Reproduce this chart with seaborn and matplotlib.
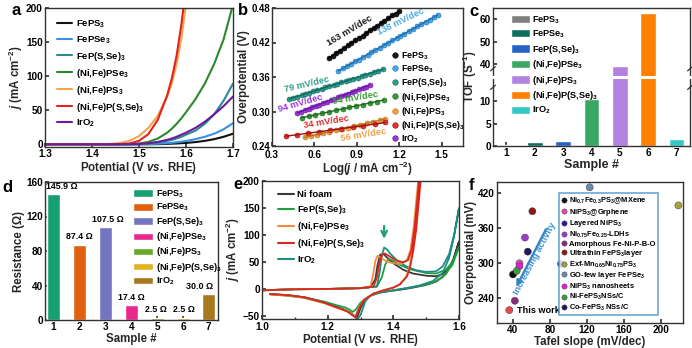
import numpy as np
import matplotlib
matplotlib.use("Agg")
import matplotlib.pyplot as plt
import seaborn as sns
from matplotlib.patches import Patch
from matplotlib.lines import Line2D
from matplotlib.ticker import MultipleLocator, FormatStrFormatter

# ---------------------------------------------------------------- data
SAMPLES = ["FePS$_3$", "FePSe$_3$", "FeP(S,Se)$_3$", "(Ni,Fe)PSe$_3$",
           "(Ni,Fe)PS$_3$", "(Ni,Fe)P(S,Se)$_3$", "IrO$_2$"]
SAMPLE_NO = ["1", "2", "3", "4", "5", "6", "7"]

# (a) LSV polarisation curves, j in mA cm-2 on a shared potential grid
a_potential = [1.30, 1.35, 1.40, 1.44, 1.46, 1.48, 1.50, 1.52, 1.54, 1.56,
               1.57, 1.58, 1.59, 1.60, 1.62, 1.64, 1.66, 1.68, 1.70]
a_feps3 = [0, 0, 0, 0, 0, 0, 0, 0, 0.2, 0.6, 0.9, 1.2, 1.6, 2.0, 3.2, 5.0, 7.5, 11, 15.5]
a_fepse3 = [0, 0, 0, 0, 0, 0, 0, 0.3, 0.8, 1.6, 2.2, 2.9, 3.8, 4.8, 7.5, 11, 15.5, 22, 31]
a_fepsse3 = [0, 0, 0, 0, 0, 0, 0.3, 1, 2.5, 5, 6.5, 8.5, 11, 14, 20, 30, 44, 64, 89]
a_nifepse3 = [0, 0, 0, 0, 0.1, 0.4, 1.2, 3.5, 8.5, 17, 23, 30, 38, 47, 66, 89, 118, 154, 205]
a_nifeps3 = [0, 0, 0, 0.6, 2, 5, 12, 24, 42, 70, 90, 118, 155, 205,
             np.nan, np.nan, np.nan, np.nan, np.nan]
a_nifepsse3 = [0, 0, 0, 0, 0.3, 1.2, 5, 15, 36, 72, 97, 130, 175, 230,
               np.nan, np.nan, np.nan, np.nan, np.nan]
a_iro2 = [0, 0, 0, 0, 0, 0.1, 0.5, 1.5, 3.5, 6.5, 8.5, 11, 14, 17, 24, 33, 44, 56, 70]

# (b) Tafel data: log(j) and overpotential (V)
b_feps3_x = [0.70, 0.73, 0.755, 0.78, 0.81, 0.835, 0.86, 0.89, 0.915, 0.94,
             0.965, 0.99, 1.02, 1.045, 1.07, 1.095, 1.12, 1.15, 1.175, 1.20]
b_feps3_y = [0.393, 0.397, 0.402, 0.406, 0.410, 0.415, 0.419, 0.424, 0.428, 0.431,
             0.436, 0.441, 0.445, 0.449, 0.454, 0.458, 0.462, 0.467, 0.470, 0.474]
b_fepse3_x = [0.77, 0.80, 0.83, 0.86, 0.885, 0.915, 0.945, 0.975, 1.00, 1.03, 1.06, 1.09,
              1.12, 1.15, 1.18, 1.205, 1.235, 1.265, 1.295, 1.325, 1.355, 1.385, 1.415,
              1.445, 1.47]
b_fepse3_y = [0.371, 0.375, 0.379, 0.383, 0.387, 0.390, 0.395, 0.399, 0.403, 0.407,
              0.411, 0.415, 0.419, 0.424, 0.427, 0.431, 0.435, 0.440, 0.443, 0.448,
              0.452, 0.456, 0.460, 0.464, 0.468]
b_fepsse3_x = [0.42, 0.45, 0.48, 0.51, 0.535, 0.565, 0.59, 0.62, 0.65, 0.675, 0.705, 0.735,
               0.76, 0.79, 0.82, 0.845, 0.875, 0.905, 0.935, 0.96, 0.99, 1.02, 1.05, 1.085]
b_fepsse3_y = [0.322, 0.324, 0.326, 0.329, 0.331, 0.333, 0.335, 0.337, 0.340, 0.342,
               0.344, 0.346, 0.348, 0.351, 0.353, 0.355, 0.357, 0.359, 0.362, 0.364,
               0.366, 0.368, 0.371, 0.374]
b_iro2_x = [0.48, 0.505, 0.53, 0.56, 0.585, 0.61, 0.635, 0.66, 0.69, 0.715, 0.74,
            0.765, 0.79, 0.815, 0.84, 0.865, 0.89, 0.915, 0.94, 0.965, 0.99]
b_iro2_y = [0.298, 0.300, 0.302, 0.305, 0.308, 0.310, 0.312, 0.315, 0.317, 0.320,
            0.322, 0.325, 0.327, 0.329, 0.331, 0.334, 0.336, 0.339, 0.341, 0.343, 0.346]
b_nifepse3_x = [0.51, 0.56, 0.605, 0.655, 0.70, 0.75, 0.80, 0.845, 0.895, 0.94,
                0.99, 1.04, 1.09]
b_nifepse3_y = [0.289, 0.292, 0.294, 0.297, 0.299, 0.302, 0.305, 0.307, 0.310,
                0.312, 0.315, 0.317, 0.320]
b_nifepsse3_x = [0.40, 0.48, 0.555, 0.635, 0.71, 0.79, 0.87, 0.945, 1.025, 1.10]
b_nifepsse3_y = [0.257, 0.260, 0.262, 0.265, 0.268, 0.270, 0.273, 0.275, 0.278, 0.281]
b_nifeps3_x = [0.53, 0.575, 0.62, 0.66, 0.705, 0.75, 0.795, 0.84, 0.88, 0.925,
               0.97, 1.015, 1.06, 1.10]
b_nifeps3_y = [0.255, 0.258, 0.260, 0.262, 0.265, 0.267, 0.270, 0.272, 0.275,
               0.277, 0.280, 0.282, 0.285, 0.287]
b_slopes = ["163 mV/dec", "138 mV/dec", "79 mV/dec", "94 mV/dec",
            "54 mV/dec", "34 mV/dec", "56 mV/dec"]

# (c) turnover frequency
c_tof = [0.2, 0.9, 1.2, 10.5, 39.3, 62.6, 1.6]

# (d) charge-transfer resistance (ohm)
d_resistance = [145.9, 87.4, 107.5, 17.4, 2.5, 2.5, 30.0]

# (e) cyclic voltammograms: anodic sweep then cathodic sweep
e_names = ["Ni foam", "FeP(S,Se)$_3$", "(Ni,Fe)PSe$_3$", "(Ni,Fe)P(S,Se)$_3$", "IrO$_2$"]
e_nifoam_v = [1.00, 1.05, 1.10, 1.20, 1.30, 1.33, 1.345, 1.352, 1.36, 1.37, 1.38, 1.40, 1.43,
              1.46, 1.50, 1.53, 1.55, 1.57, 1.585, 1.60,
              1.58, 1.56, 1.53, 1.50, 1.46, 1.42, 1.38, 1.34, 1.315, 1.30, 1.29, 1.28,
              1.26, 1.23, 1.19, 1.13, 1.08, 1.025]
e_nifoam_j = [-2, -1, 0, 0.5, 2, 4, 18, 45, 64, 65, 59, 48, 36, 29, 25, 24, 28, 40, 58, 88,
              50, 28, 14, 8, 3, -1, -4, -8, -18, -35, -52, -48, -40, -33, -24, -15, -11, -9]
e_fepsse3_v = [1.00, 1.05, 1.10, 1.20, 1.30, 1.35, 1.365, 1.375, 1.385, 1.395, 1.42, 1.45,
               1.50, 1.53, 1.56, 1.58, 1.60,
               1.58, 1.55, 1.52, 1.48, 1.44, 1.40, 1.36, 1.33, 1.30, 1.285, 1.275, 1.268,
               1.255, 1.23, 1.19, 1.13, 1.08, 1.025]
e_fepsse3_j = [-2, -1, 0, 0.5, 2, 5, 22, 45, 56, 54, 45, 37, 30, 29, 36, 50, 78,
               45, 22, 12, 6, 2, -2, -6, -12, -25, -38, -42, -38, -34, -30, -23, -15, -11, -9]
e_nifepse3_v = [1.00, 1.05, 1.10, 1.20, 1.30, 1.33, 1.338, 1.345, 1.352, 1.362, 1.38, 1.40,
                1.42, 1.44, 1.452, 1.462, 1.47, 1.478,
                1.482, 1.475, 1.467, 1.458, 1.45, 1.44, 1.42, 1.40, 1.37, 1.34, 1.31, 1.295,
                1.285, 1.275, 1.26, 1.23, 1.19, 1.13, 1.08, 1.025]
e_nifepse3_j = [-2, -1, 0, 0.5, 2, 5, 25, 52, 62, 58, 51, 48, 47, 52, 72, 115, 165, 215,
                215, 165, 112, 72, 44, 24, 9, 3, -2, -8, -20, -34, -50, -47, -41, -35, -26,
                -16, -12, -10]
e_nifepsse3_v = [1.00, 1.05, 1.10, 1.20, 1.30, 1.34, 1.35, 1.358, 1.366, 1.375, 1.39, 1.41,
                 1.43, 1.445, 1.456, 1.465, 1.473, 1.48,
                 1.485, 1.478, 1.47, 1.461, 1.452, 1.442, 1.42, 1.40, 1.37, 1.34, 1.31,
                 1.295, 1.285, 1.275, 1.26, 1.23, 1.19, 1.13, 1.08, 1.025]
e_nifepsse3_j = [-2, -1, 0, 0.5, 2, 5, 22, 50, 64, 66, 60, 53, 50, 54, 74, 115, 165, 215,
                 215, 165, 112, 72, 44, 24, 9, 3, -2, -8, -20, -36, -52, -48, -41, -34, -25,
                 -15, -11, -9]
e_iro2_v = [1.00, 1.05, 1.10, 1.20, 1.30, 1.35, 1.358, 1.365, 1.372, 1.38, 1.39, 1.41, 1.44,
            1.47, 1.50, 1.53, 1.55, 1.57, 1.585, 1.60,
            1.585, 1.57, 1.55, 1.52, 1.48, 1.44, 1.40, 1.36, 1.33, 1.315, 1.30, 1.29, 1.275,
            1.25, 1.22, 1.18, 1.12, 1.06, 1.025]
e_iro2_j = [-2, -1, 0, 0.5, 2, 5, 30, 62, 77, 74, 66, 54, 42, 35, 32, 33, 42, 65, 100, 150,
            98, 58, 30, 15, 7, 2, -2, -6, -12, -22, -48, -56, -46, -38, -31, -23, -15, -11, -9]

# (f) literature comparison: Tafel slope (mV/dec) vs overpotential (mV)
f_names = ["Ni$_{0.7}$Fe$_{0.3}$PS$_3$@MXene", "NiPS$_3$@Grphene", "Layered NiPS$_3$",
           "Ni$_{0.75}$Fe$_{0.25}$-LDHs", "Amorphous Fe-Ni-P-B-O", "Ultrathin FePS$_3$layer",
           "Exf-Mn$_{0.65}$Ni$_{0.75}$PS$_3$", "GO-few layer FePSe$_3$",
           "NiPS$_3$ nanosheets", "Ni-FePS$_3$NSs/C", "Co-FePS$_3$ NSs/C", "This work"]
f_tafel = [40, 47, 92, 53, 42, 61, 219, 123, 47, 44, 56, 36]
f_overpotential = [281, 300, 299, 344, 236, 389, 399, 430, 295, 287, 320, 220]

# ---------------------------------------------------------------- style
sns.set_theme(style="ticks")
plt.rcParams.update({
    "font.family": ["Liberation Sans", "DejaVu Sans"],
    "font.weight": "bold",
    "axes.labelweight": "bold",
    "mathtext.fontset": "custom",
    "mathtext.rm": "Liberation Sans:bold",
    "mathtext.bf": "Liberation Sans:bold",
    "mathtext.it": "Liberation Sans:bold:italic",
    "mathtext.bfit": "Liberation Sans:bold:italic",
    "axes.linewidth": 1.0,
    "axes.edgecolor": "#333333",
    "xtick.direction": "in",
    "ytick.direction": "in",
    "xtick.major.size": 3,
    "ytick.major.size": 3,
    "xtick.minor.size": 1.8,
    "xtick.major.pad": 1.3,
    "ytick.major.pad": 1.5,
    "xtick.labelsize": 7.2,
    "ytick.labelsize": 7.2,
    "axes.labelsize": 8.3,
    "axes.labelpad": 0.8,
    "legend.fontsize": 6.8,
    "text.color": "black",
    "xtick.color": "#333333",
    "ytick.color": "#333333",
    "xtick.labelcolor": "black",
    "ytick.labelcolor": "black",
})

W, H = 692, 348
fig = plt.figure(figsize=(W / 100, H / 100), dpi=100)


def box(left, top, right, bottom):
    return fig.add_axes([left / W, 1 - bottom / H, (right - left) / W, (bottom - top) / H])


def letter(x, y, s):
    fig.text(x / W, 1 - y / H, s, fontsize=12, fontweight="bold", va="baseline")


# ---------------------------------------------------------------- (a)
ax = box(45, 8, 233, 147)
a_colors = ["#111111", "#3a90e0", "#2b8a94", "#2a8a2a", "#f5a54a", "#e3231c", "#6c1b9c"]
a_series = [a_feps3, a_fepse3, a_fepsse3, a_nifepse3, a_nifeps3, a_nifepsse3, a_iro2]
for vals, col, lab in zip(a_series, a_colors, SAMPLES):
    sns.lineplot(x=a_potential, y=vals, color=col, lw=1.5, label=lab, ax=ax, sort=False,
                 estimator=None)
ax.set_xlim(1.3, 1.7)
ax.set_ylim(-4, 200)
ax.set_xticks([1.3, 1.4, 1.5, 1.6, 1.7])
ax.set_yticks([0, 50, 100, 150, 200])
ax.xaxis.set_major_formatter(FormatStrFormatter("%.1f"))
ax.set_xlabel("Potential (V $vs.$ RHE)")
ax.set_ylabel("$j$ (mA cm$^{-2}$)")
ax.legend(loc="upper left", bbox_to_anchor=(0.03, 0.97), frameon=False,
          handlelength=1.6, handletextpad=0.4, labelspacing=0.42, borderpad=0.2)
letter(12, 15, "a")

# ---------------------------------------------------------------- (b)
ax = box(272, 8, 463, 146)
b_colors = ["#1a1a1a", "#4aa8e8", "#2e9e8e", "#3a9a3a", "#f0a040", "#e03030", "#9a35d8"]
b_edge = ["#000000", "#1d6fb0", "#136a5f", "#1f6b1f", "#c07018", "#a01010", "#6a1aa0"]
b_data = [(b_feps3_x, b_feps3_y), (b_fepse3_x, b_fepse3_y), (b_fepsse3_x, b_fepsse3_y),
          (b_nifepse3_x, b_nifepse3_y), (b_nifeps3_x, b_nifeps3_y),
          (b_nifepsse3_x, b_nifepsse3_y), (b_iro2_x, b_iro2_y)]
for (xs, ys), col, ec in zip(b_data, b_colors, b_edge):
    sns.regplot(x=xs, y=ys, ci=None, ax=ax, color=col,
                scatter_kws=dict(s=13, edgecolor=ec, linewidths=0.4, alpha=1),
                line_kws=dict(lw=1.0, color=ec))
# slope annotations: x, y, rotation
b_label_pos = [(0.850, 0.441, 31), (1.21, 0.456, 26), (0.545, 0.347, 13),
               (0.50, 0.315, 16), (0.887, 0.324, 9), (0.687, 0.282, 9), (0.943, 0.259, 9)]
b_label_col = ["#1a1a1a", "#4aa8e8", "#2e9e8e", "#9a35d8", "#3a9a3a", "#e03030", "#f0a040"]
for (x, y, r), col, t in zip(b_label_pos, b_label_col, b_slopes):
    ax.text(x, y, t, color=col, rotation=r, rotation_mode="anchor", ha="center",
            va="center", fontsize=6.7, fontweight="bold")
ax.set_xlim(0.3, 1.65)
ax.set_ylim(0.24, 0.48)
ax.set_xticks([0.3, 0.6, 0.9, 1.2, 1.5])
ax.set_yticks([0.24, 0.30, 0.36, 0.42, 0.48])
ax.tick_params(axis="x", pad=2.6)
ax.tick_params(axis="y", labelsize=6.9)
ax.xaxis.set_major_formatter(FormatStrFormatter("%.1f"))
ax.yaxis.set_major_formatter(FormatStrFormatter("%.2f"))
ax.set_xlabel("Log($j$ / mA cm$^{-2}$)", labelpad=0.3)
ax.set_ylabel("Overpotential (V)")
b_handles = [Line2D([], [], ls="", marker="o", ms=4, color=c, mec=e, mew=0.4)
             for c, e in zip(b_colors, b_edge)]
ax.legend(b_handles, SAMPLES, loc="upper left", bbox_to_anchor=(0.6, 0.73), frameon=False,
          fontsize=6.4, handlelength=0.7, handletextpad=0.35, labelspacing=0.15,
          borderpad=0.1)
letter(238, 15, "b")

# ---------------------------------------------------------------- (c)
ax = box(493, 8, 690, 146)
c_colors = ["#7f7f7f", "#0f6e62", "#2563c9", "#3aa862", "#b382e0", "#ff8000", "#32c8c8"]
sns.barplot(x=SAMPLE_NO, y=c_tof, hue=SAMPLE_NO, palette=c_colors, legend=False,
            width=0.55, saturation=1, ax=ax)

LOW_TOP, HIGH_BOTTOM, HIGH_TOP, SPLIT = 15.3, 34.3, 64.7, 0.4976
EPS = 1e-5


def _to_axis(y):
    y = np.asarray(y, float)
    lo = y * SPLIT / LOW_TOP
    mid = SPLIT + (y - LOW_TOP) * EPS
    hi = SPLIT + (HIGH_BOTTOM - LOW_TOP) * EPS + (y - HIGH_BOTTOM) * (1 - SPLIT) / (HIGH_TOP - HIGH_BOTTOM)
    return np.where(y <= LOW_TOP, lo, np.where(y <= HIGH_BOTTOM, mid, hi))


def _from_axis(u):
    u = np.asarray(u, float)
    u2 = SPLIT + (HIGH_BOTTOM - LOW_TOP) * EPS
    lo = u * LOW_TOP / SPLIT
    mid = LOW_TOP + (u - SPLIT) / EPS
    hi = HIGH_BOTTOM + (u - u2) * (HIGH_TOP - HIGH_BOTTOM) / (1 - SPLIT)
    return np.where(u <= SPLIT, lo, np.where(u <= u2, mid, hi))


ax.set_yscale("function", functions=(_to_axis, _from_axis))
ax.set_ylim(0, HIGH_TOP)
ax.set_yticks([0, 5, 10, 40, 50, 60])
ax.set_yticklabels(["0", "5", "10", "40", "50", "60"])
ax.yaxis.set_minor_locator(matplotlib.ticker.NullLocator())
ax.set_xlim(-0.47, 6.47)
ax.plot([-0.01, 1.01], [SPLIT, SPLIT], transform=ax.transAxes, color="white", lw=2.2,
        zorder=4, clip_on=False)
for xs in (0.0, 1.0):
    for yb in (0.425, 0.56):
        ax.plot([xs - 0.012, xs + 0.012], [yb - 0.015, yb + 0.015], transform=ax.transAxes,
                color="#333333", lw=0.9, zorder=7, clip_on=False)
ax.set_xlabel("Sample #", fontsize=9)
ax.set_ylabel("TOF (S$^{-1}$)")
c_handles = [Patch(facecolor=c) for c in c_colors]
leg = ax.legend(c_handles, SAMPLES, loc="upper left", bbox_to_anchor=(0.06, 1.0),
                frameon=False, fontsize=6.6, handlelength=2.0, handleheight=1.0,
                handletextpad=0.3, labelspacing=0.28, borderpad=0.2)
leg.set_zorder(10)
letter(469, 16, "c")

# ---------------------------------------------------------------- (d)
ax = box(45, 182, 218, 320)
d_colors = ["#16a072", "#e0600f", "#7474c0", "#e8288c", "#66a82a", "#e3b020", "#a8781f"]
sns.barplot(x=SAMPLE_NO, y=d_resistance, hue=SAMPLE_NO, palette=d_colors, legend=False,
            width=0.5, saturation=1, ax=ax)
d_label_dx = [0.3, 0, 0.1, 0, -0.05, 0.05, -0.35]
for i, (v, dx) in enumerate(zip(d_resistance, d_label_dx)):
    ax.text(i + dx, v + 4, f"{v:.1f} Ω", ha="center", va="bottom", fontsize=6.4,
            fontweight="bold")
ax.set_ylim(0, 160)
ax.set_xlim(-0.33, 6.35)
ax.set_yticks([0, 40, 80, 120, 160])
ax.set_xlabel("Sample #")
ax.set_ylabel("Resistance (Ω)")
d_handles = [Patch(facecolor=c) for c in d_colors]
ax.legend(d_handles, SAMPLES, loc="upper left", bbox_to_anchor=(0.47, 1.0), frameon=False,
          fontsize=6.6, handlelength=2.2, handleheight=0.9, handletextpad=0.3,
          labelspacing=0.22, borderpad=0.2)
letter(2, 192, "d")

# ---------------------------------------------------------------- (e)
ax = box(262, 181, 459, 319)
e_colors = ["#3a3a3a", "#1fa040", "#f58a40", "#d8281e", "#1e8c84"]
e_data = [(e_nifoam_v, e_nifoam_j), (e_fepsse3_v, e_fepsse3_j), (e_iro2_v, e_iro2_j),
          (e_nifepse3_v, e_nifepse3_j), (e_nifepsse3_v, e_nifepsse3_j)]
e_order_colors = [e_colors[0], e_colors[1], e_colors[4], e_colors[2], e_colors[3]]
for (vs, js), col in zip(e_data, e_order_colors):
    sns.lineplot(x=vs, y=js, sort=False, estimator=None, color=col, lw=1.3, ax=ax)
ax.annotate("", xy=(1.372, 88), xytext=(1.372, 122),
            arrowprops=dict(arrowstyle="->", color="#1fa070", lw=1.6, mutation_scale=10))
ax.set_xlim(1.0, 1.6)
ax.set_ylim(-55, 200)
ax.set_xticks([1.0, 1.2, 1.4, 1.6])
ax.xaxis.set_minor_locator(MultipleLocator(0.1))
ax.set_yticks([-50, 0, 50, 100, 150, 200])
ax.xaxis.set_major_formatter(FormatStrFormatter("%.1f"))
ax.tick_params(axis="x", pad=2.2)
ax.set_xlabel("Potential (V $vs.$ RHE)", labelpad=0.3)
ax.set_ylabel("$j$ (mA cm$^{-2}$)")
e_handles = [Line2D([], [], color=c, lw=1.5) for c in e_colors]
ax.legend(e_handles, e_names, loc="upper left", bbox_to_anchor=(0.05, 0.98), frameon=False,
          handlelength=1.6, handletextpad=0.4, labelspacing=0.42, borderpad=0.2)
letter(233, 189, "e")

# ---------------------------------------------------------------- (f)
ax = box(497, 182, 683, 323)
f_colors = ["#111111", "#e84aa8", "#1f1fa0", "#9640c8", "#8a2d7a", "#8c1c1c",
            "#a8a040", "#6c8aa8", "#e020d8", "#3e9a3e", "#1a1a5a", "#e84848"]
sns.scatterplot(x=f_tafel, y=f_overpotential, hue=f_names, palette=f_colors, s=26,
                edgecolor="#333333", linewidth=0.3, legend=False, ax=ax, zorder=3)
ax.annotate("", xy=(42.2, 255.6), xytext=(77.1, 362.6),
            arrowprops=dict(arrowstyle="-|>", color="#2f82c8", lw=1.6, mutation_scale=9))
ax.text(63.5, 309, "Increasing activity", color="#3a92d4", rotation=62, ha="center",
        va="center", fontsize=6.6, fontweight="bold", rotation_mode="anchor")
ax.text(44, 219, "This work", fontsize=6.6, fontweight="bold", va="center")
ax.set_xlim(22.7, 224)
ax.set_ylim(198, 439)
ax.set_xticks([40, 80, 120, 160, 200])
ax.set_yticks([240, 300, 360, 420])
ax.set_xlabel("Tafel slope (mV/dec)")
ax.set_ylabel("Overpotential (mV)")
f_handles = [Line2D([], [], ls="", marker="o", ms=3.8, color=c, mec="#333333", mew=0.3)
             for c in f_colors[:-1]]
leg = ax.legend(f_handles, f_names[:-1], loc="upper left", bbox_to_anchor=(0.335, 0.92),
                frameon=True, fancybox=False, fontsize=5.4, handlelength=0.7,
                handletextpad=0.35, labelspacing=0.06, borderpad=0.3, borderaxespad=0)
leg.get_frame().set_edgecolor("#4a90c8")
leg.get_frame().set_linewidth(1.2)
letter(469, 190, "f")

fig.savefig("out.png", dpi=100)
